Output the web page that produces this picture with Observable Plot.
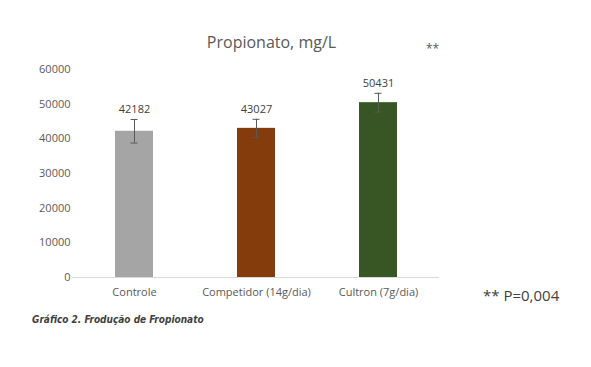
<!DOCTYPE html>
<html>
<head>
<meta charset="utf-8">
<script src="https://cdn.jsdelivr.net/npm/d3@7"></script>
<script src="https://cdn.jsdelivr.net/npm/@observablehq/plot@0.6"></script>
<style>
  html, body { margin: 0; padding: 0; background: #fff; }
  #wrap { position: relative; width: 591px; height: 367px; font-family: "Open Sans", sans-serif; }
  #title { position: absolute; left: 0; width: 543px; top: 31px; text-align: center; font-size: 16px; color: #595959; }
  #stars { position: absolute; left: 426px; top: 40px; font-size: 12px; color: #595959; }
  #pval { position: absolute; left: 483px; top: 285px; font-size: 15px; color: #404040; }
  #caption { position: absolute; left: 32px; top: 314px; font-size: 10px; font-weight: bold; font-style: italic; color: #404040; font-family: "Liberation Sans Narrow", "DejaVu Sans Condensed", sans-serif; }
  #chart { position: absolute; left: 0; top: 0; }
</style>
</head>
<body>
<div id="wrap">
  <div id="chart"></div>
  <div id="title">Propionato, mg/L</div>
  <div id="stars">**</div>
  <div id="pval">** P=0,004</div>
  <div id="caption">Gráfico 2. Frodução de Fropionato</div>
</div>
<script>
const categories = ["Controle", "Competidor (14g/dia)", "Cultron (7g/dia)"];
const values = [42182, 43027, 50431];
const errors = [3400, 2600, 2700];
const colors = ["#a5a5a5", "#843c0c", "#375623"];
const yTicks = [0, 10000, 20000, 30000, 40000, 50000, 60000];

const data = categories.map((c, i) => ({cat: c, v: values[i], e: errors[i]}));

const chart = Plot.plot({
  width: 591,
  height: 367,
  marginLeft: 72,
  marginRight: 152,
  marginTop: 69,
  marginBottom: 90,
  style: {fontFamily: "'Open Sans', sans-serif", fontSize: "11px", color: "#595959", background: "transparent"},
  x: {domain: categories, paddingInner: 0.69, paddingOuter: 0.345, label: null, tickSize: 0, tickPadding: 11},
  y: {domain: [0, 60000], ticks: yTicks, tickFormat: d => String(d), label: null, tickSize: 0, tickPadding: 2},
  color: {domain: categories, range: colors},
  marks: [
    Plot.barY(data, {x: "cat", y: "v", fill: "cat"}),
    Plot.ruleY([0], {stroke: "#d9d9d9", strokeWidth: 1}),
    Plot.ruleX(data, {x: "cat", y1: d => d.v - d.e, y2: d => d.v + d.e, stroke: "#595959", strokeWidth: 1}),
    Plot.tickY(data, {x: "cat", y: d => d.v - d.e, stroke: "#595959", insetLeft: 15.5, insetRight: 15.5}),
    Plot.tickY(data, {x: "cat", y: d => d.v + d.e, stroke: "#595959", insetLeft: 15.5, insetRight: 15.5}),
    Plot.text(data, {x: "cat", y: d => d.v + d.e, text: d => String(d.v), dy: -10, fill: "#404040", fontSize: 11})
  ]
});
document.getElementById("chart").appendChild(chart);
</script>
</body>
</html>
